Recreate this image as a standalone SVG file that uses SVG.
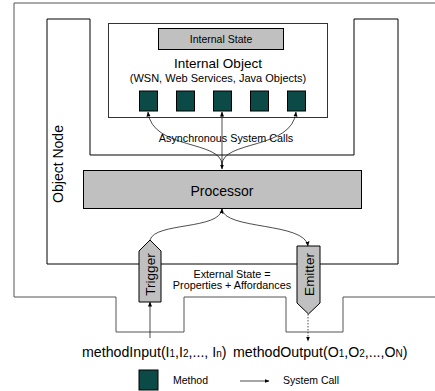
<svg xmlns="http://www.w3.org/2000/svg" width="435" height="391" viewBox="0 0 435 391">
<defs>
<marker id="ah" viewBox="0 0 10 10" refX="9" refY="5" markerWidth="5" markerHeight="5" orient="auto-start-reverse" markerUnits="userSpaceOnUse">
<path d="M0,1 L10,5 L0,9 z" fill="#000"/>
</marker>
<style>
text{font-family:"Liberation Sans",Arial,sans-serif;fill:#000}
.gray{fill:#c0c0c0;stroke:#000;stroke-width:1}
.meth{fill:#0b4a47;stroke:#000;stroke-width:1}
.conn{fill:none;stroke:#000;stroke-width:0.7}
</style>
</defs>
<rect width="435" height="391" fill="#fff"/>
<g id="outer-frame">
<path d="M435,3 H14 V297 H116 V332 H184 V297 H286 V332 H343 V297 H435" fill="none" stroke="#555" stroke-width="1"/>
</g>
<g id="object-node">
<path d="M47,19 H90 V155 H354 V19 H398 V264 H47 Z" fill="none" stroke="#000" stroke-width="1"/>
<text x="0" y="0" font-size="14" text-anchor="middle" transform="translate(63,164) rotate(-90)">Object Node</text>
</g>
<g id="internal-object">
<rect x="108.5" y="23.5" width="219" height="94" fill="#fff" stroke="#333" stroke-width="1"/>
<text x="218" y="68" font-size="13.5" text-anchor="middle">Internal Object</text>
<text x="218" y="82" font-size="11" text-anchor="middle">(WSN, Web Services, Java Objects)</text>
</g>
<g id="internal-state">
<rect class="gray" x="158.5" y="28.5" width="125" height="21"/>
<text x="221" y="43" font-size="10.5" text-anchor="middle">Internal State</text>
</g>
<g id="methods">
<rect class="meth" x="139.5" y="91" width="18" height="20"/>
<rect class="meth" x="176.5" y="91" width="18" height="20"/>
<rect class="meth" x="213.5" y="91" width="18" height="20"/>
<rect class="meth" x="250.5" y="91" width="18" height="20"/>
<rect class="meth" x="287.5" y="91" width="18" height="20"/>
</g>
<g id="processor">
<rect class="gray" x="83.5" y="170.5" width="278" height="38"/>
<text x="222" y="196" font-size="14" text-anchor="middle">Processor</text>
</g>
<g id="trigger">
<path class="gray" d="M139,251 L150,240 L161,251 V302 H139 Z"/>
<text x="0" y="0" font-size="13.5" text-anchor="middle" transform="translate(155,274.5) rotate(-90)">Trigger</text>
</g>
<g id="emitter">
<path class="gray" d="M297,246 H320 V303 L308.5,314 L297,303 Z"/>
<text x="0" y="0" font-size="13.5" text-anchor="middle" transform="translate(313.5,274.5) rotate(-90)">Emitter</text>
</g>
<g id="labels">
<text x="226" y="142" font-size="10.8" text-anchor="middle">Asynchronous System Calls</text>
<text x="232" y="278" font-size="10.8" text-anchor="middle">External State =</text>
<text x="232" y="289" font-size="10.8" text-anchor="middle">Properties + Affordances</text>
<text x="82" y="357" font-size="14.2">methodInput(I<tspan font-size="10">1</tspan>,I<tspan font-size="10">2</tspan>,..., I<tspan font-size="10">n</tspan>)</text>
<text x="233" y="357" font-size="14.2">methodOutput(O<tspan font-size="10">1</tspan>,O<tspan font-size="10">2</tspan>,...,O<tspan font-size="10">N</tspan>)</text>
</g>
<g id="connectors">
<path class="conn" d="M222,112 V169" marker-start="url(#ah)" marker-end="url(#ah)"/>
<path class="conn" d="M222,165 C222,140 152,150 148,112" marker-end="url(#ah)"/>
<path class="conn" d="M222,165 C222,140 292,150 296,112" marker-end="url(#ah)"/>
<path class="conn" d="M222,209 C220,230 155,222 150,240" marker-start="url(#ah)"/>
<path class="conn" d="M222,209 C224,230 305,222 308,246" marker-end="url(#ah)"/>
<path class="conn" d="M150,338 V302" marker-end="url(#ah)"/>
<path class="conn" d="M308,314 V341" stroke-dasharray="1.5,1.5" marker-end="url(#ah)"/>
</g>
<g id="legend">
<rect class="meth" x="139" y="370" width="19" height="20"/>
<text x="173" y="384" font-size="10.5">Method</text>
<path class="conn" d="M240,381 H269" marker-end="url(#ah)"/>
<text x="283" y="384" font-size="10.5">System Call</text>
</g>
</svg>
